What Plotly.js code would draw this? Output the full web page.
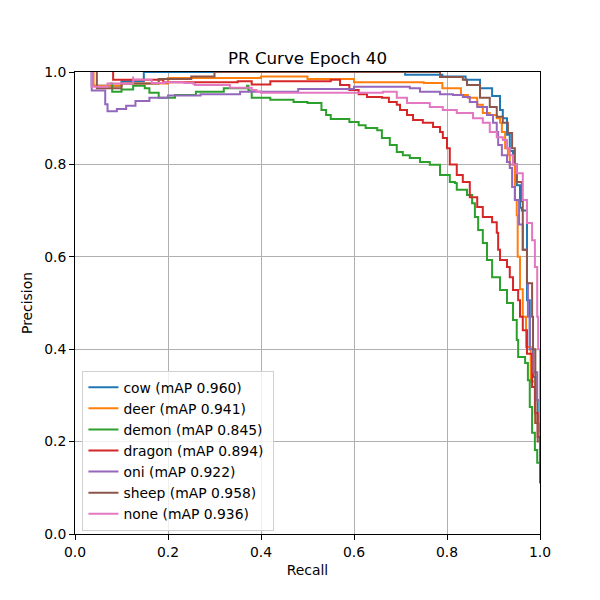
<!DOCTYPE html>
<html>
<head>
<meta charset="utf-8">
<script src="https://cdn.plot.ly/plotly-3.0.1.min.js"></script>
<style>html,body{margin:0;padding:0;background:#fff;}#chart{width:600px;height:600px;}</style>
</head>
<body>
<div id="chart"></div>
<script>
// Series names and mAP values
const classNames = ["cow", "deer", "demon", "dragon", "oni", "sheep", "none"];
const mapValues = [0.960, 0.941, 0.845, 0.894, 0.922, 0.958, 0.936];
const colors = ["#1f77b4", "#ff7f0e", "#2ca02c", "#d62728", "#9467bd", "#8c564b", "#e377c2"];

// Recall / precision arrays
const cowRecall = [0.036,0.036,0.10,0.148,0.148,0.70,0.71,0.79,0.84,0.871,0.897,0.914,0.92,0.929,0.935,0.942,0.95,0.957,0.961,0.972,0.978,0.985,0.99,0.995,1.0];
const cowPrec   = [1.0,0.97,0.98,0.99,1.0,1.0,0.994,0.99,0.983,0.965,0.948,0.918,0.90,0.864,0.829,0.80,0.755,0.706,0.70,0.506,0.40,0.34,0.29,0.24,0.16];

const deerRecall = [0.04,0.04,0.10,0.20,0.40,0.50,0.60,0.75,0.79,0.83,0.845,0.865,0.877,0.892,0.907,0.914,0.918,0.925,0.931,0.935,0.946,0.95,0.952,0.957,0.963,0.97,0.98,0.99,1.0];
const deerPrec   = [1.0,0.97,0.975,0.987,0.99,0.985,0.978,0.976,0.965,0.95,0.944,0.929,0.911,0.907,0.90,0.89,0.87,0.835,0.82,0.80,0.723,0.69,0.60,0.53,0.47,0.405,0.33,0.24,0.19];

const demonRecall = [0.075,0.08,0.10,0.125,0.15,0.16,0.18,0.215,0.26,0.32,0.37,0.373,0.38,0.42,0.47,0.50,0.53,0.54,0.55,0.59,0.61,0.625,0.65,0.66,0.677,0.692,0.705,0.72,0.742,0.763,0.785,0.806,0.817,0.821,0.843,0.854,0.86,0.867,0.877,0.886,0.897,0.914,0.929,0.942,0.95,0.953,0.968,0.974,0.978,0.983,0.989,0.994,1.0];
const demonPrec   = [0.975,0.957,0.962,0.97,0.965,0.955,0.944,0.95,0.957,0.965,0.97,0.96,0.944,0.94,0.935,0.933,0.918,0.907,0.898,0.892,0.885,0.879,0.874,0.857,0.842,0.827,0.82,0.814,0.805,0.799,0.777,0.762,0.76,0.745,0.734,0.716,0.686,0.658,0.63,0.593,0.556,0.528,0.50,0.463,0.42,0.383,0.37,0.333,0.275,0.219,0.182,0.154,0.11];

const dragonRecall = [0.082,0.082,0.18,0.19,0.35,0.38,0.42,0.55,0.57,0.59,0.61,0.628,0.66,0.675,0.692,0.699,0.714,0.727,0.748,0.77,0.785,0.791,0.80,0.806,0.821,0.834,0.849,0.865,0.877,0.897,0.907,0.91,0.914,0.929,0.935,0.942,0.953,0.957,0.963,0.972,0.983,0.989,0.995,1.0];
const dragonPrec   = [1.0,0.983,0.983,0.978,0.98,0.973,0.98,0.983,0.972,0.961,0.952,0.946,0.944,0.935,0.929,0.918,0.907,0.896,0.89,0.881,0.87,0.857,0.835,0.80,0.777,0.762,0.729,0.708,0.686,0.675,0.652,0.615,0.593,0.578,0.556,0.528,0.506,0.47,0.441,0.39,0.318,0.262,0.21,0.16];

const oniRecall = [0.036,0.036,0.065,0.065,0.07,0.09,0.11,0.13,0.16,0.20,0.27,0.355,0.48,0.60,0.72,0.742,0.785,0.813,0.834,0.849,0.865,0.886,0.899,0.907,0.91,0.918,0.929,0.935,0.94,0.946,0.955,0.963,0.972,0.974,0.978,0.986,0.994,1.0];
const oniPrec   = [1.0,0.96,0.96,0.93,0.915,0.92,0.927,0.937,0.944,0.949,0.952,0.957,0.963,0.968,0.965,0.957,0.952,0.95,0.946,0.935,0.924,0.907,0.89,0.87,0.842,0.82,0.805,0.792,0.751,0.723,0.67,0.615,0.543,0.47,0.40,0.35,0.29,0.22];

const sheepRecall = [0.047,0.047,0.10,0.18,0.25,0.30,0.74,0.785,0.834,0.843,0.871,0.892,0.907,0.92,0.931,0.94,0.946,0.95,0.961,0.963,0.972,0.983,0.985,0.99,0.995,1.0];
const sheepPrec   = [1.0,0.965,0.975,0.985,0.99,1.0,1.0,0.989,0.983,0.972,0.944,0.924,0.903,0.89,0.868,0.835,0.80,0.762,0.72,0.615,0.543,0.47,0.40,0.24,0.20,0.11];

const noneRecall = [0.036,0.036,0.07,0.125,0.125,0.158,0.165,0.192,0.235,0.255,0.258,0.32,0.333,0.38,0.39,0.40,0.43,0.662,0.692,0.714,0.763,0.791,0.821,0.856,0.877,0.892,0.907,0.92,0.929,0.935,0.942,0.95,0.963,0.972,0.983,0.989,0.994,0.996,1.0];
const nonePrec   = [1.0,0.968,0.975,0.99,0.983,0.983,0.976,0.978,0.976,0.974,0.972,0.972,0.966,0.961,0.958,0.955,0.955,0.957,0.944,0.933,0.924,0.918,0.911,0.90,0.89,0.87,0.859,0.853,0.835,0.82,0.80,0.781,0.723,0.673,0.636,0.578,0.47,0.40,0.24];

const recalls = [cowRecall, deerRecall, demonRecall, dragonRecall, oniRecall, sheepRecall, noneRecall];
const precs = [cowPrec, deerPrec, demonPrec, dragonPrec, oniPrec, sheepPrec, nonePrec];

const tickVals = [0, 0.2, 0.4, 0.6, 0.8, 1.0];
const tickText = ["0.0", "0.2", "0.4", "0.6", "0.8", "1.0"];

const traces = classNames.map((n, i) => ({
  x: recalls[i], y: precs[i], type: "scatter", mode: "lines",
  name: n + " (mAP " + mapValues[i].toFixed(3) + ")\u00a0",
  line: {color: colors[i], width: 2, shape: "hv"}
}));

const axisCommon = {
  range: [0, 1], tickvals: tickVals, ticktext: tickText,
  showgrid: true, gridcolor: "#b0b0b0", gridwidth: 1,
  showline: true, linecolor: "#000", linewidth: 1, mirror: true,
  ticks: "outside", ticklen: 5, tickcolor: "#000", tickwidth: 1,
  zeroline: false, tickfont: {size: 13.9, color: "#000"}
};

const layout = {
  width: 600, height: 600,
  margin: {l: 75, r: 60, t: 72, b: 66},
  paper_bgcolor: "#fff", plot_bgcolor: "#fff",
  font: {family: "DejaVu Sans", color: "#000"},
  title: {text: "PR Curve Epoch 40", font: {size: 16.7, color: "#000"}, x: 0.5, xref: "paper", xanchor: "center", y: 1 - 58/600, yanchor: "middle"},
  xaxis: Object.assign({}, axisCommon, {title: {text: "Recall", font: {size: 13.9}, standoff: 6}}),
  yaxis: Object.assign({}, axisCommon, {title: {text: "Precision", font: {size: 13.9}, standoff: 8}}),
  showlegend: true,
  legend: {x: 0.016, y: 0.007, xanchor: "left", yanchor: "bottom", bgcolor: "rgba(255,255,255,0.8)",
           bordercolor: "#d0d0d0", borderwidth: 1, font: {size: 13.9, color: "#000"}, itemwidth: 30, tracegroupgap: 0}
};

Plotly.newPlot("chart", traces, layout, {displayModeBar: false, staticPlot: true});
</script>
</body>
</html>
